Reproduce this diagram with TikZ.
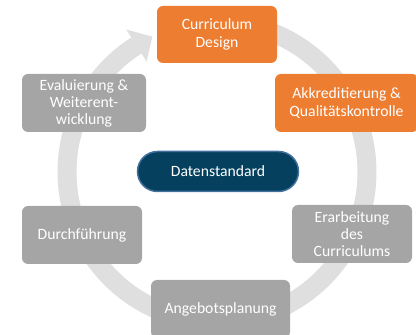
\documentclass[tikz,border=0pt]{standalone}
\usepackage{fontspec}
\setmainfont{Carlito}
\usetikzlibrary{calc}
\definecolor{ringgray}{HTML}{DFDFDF}
\definecolor{boxgray}{HTML}{A5A5A5}
\definecolor{boxorange}{HTML}{ED7D31}
\definecolor{dsfill}{HTML}{05415F}
\definecolor{dsborder}{HTML}{41719C}
\begin{document}
\begin{tikzpicture}[x=1pt,y=1pt,
  stage/.style={rounded corners=6pt, text=white, align=center, inner sep=0pt,
    font=\fontsize{15.7}{18}\selectfont},
  graystage/.style={stage, fill=boxgray},
  orangestage/.style={stage, fill=boxorange},
  tight/.style={font=\fontsize{15.7}{17}\selectfont}]
\useasboundingbox (0,0) rectangle (416,335);
\coordinate (c) at (217,163);
% cycle ring
\draw[ringgray, line width=19pt] ($(c)+(95:150)$) arc[start angle=95, end angle=-237.5, radius=150];
\fill[ringgray] ($(c)+(122.5:169)$) -- ($(c)+(115.5:150)$) -- ($(c)+(122.5:131)$) -- cycle;
% stages
\node[orangestage, minimum width=120pt, minimum height=57pt] (design) at (217,300.5) {Curriculum\\Design};
\node[orangestage, minimum width=143pt, minimum height=58pt] (akk) at (346.5,232) {Akkreditierung \&\\Qualitätskontrolle};
\node[graystage, tight, minimum width=120pt, minimum height=58pt] (erarb) at (352,101) {Erarbeitung\\des\\Curriculums};
\node[graystage, minimum width=139pt, minimum height=58pt] (angebot) at (220.5,26) {Angebotsplanung};
\node[graystage, minimum width=120pt, minimum height=58pt] (durch) at (82,100) {Durchführung};
\node[graystage, tight, minimum width=124pt, minimum height=58pt] (eval) at (84,232) {Evaluierung \&\\Weiterent-\\wicklung};
% center
\node[rounded corners=20pt, fill=dsfill, draw=dsborder, line width=1.5pt, text=white,
  minimum width=161pt, minimum height=40pt, inner sep=0pt,
  font=\fontsize{15.7}{18}\selectfont] (daten) at (218,163.5) {Datenstandard};
\end{tikzpicture}
\end{document}
